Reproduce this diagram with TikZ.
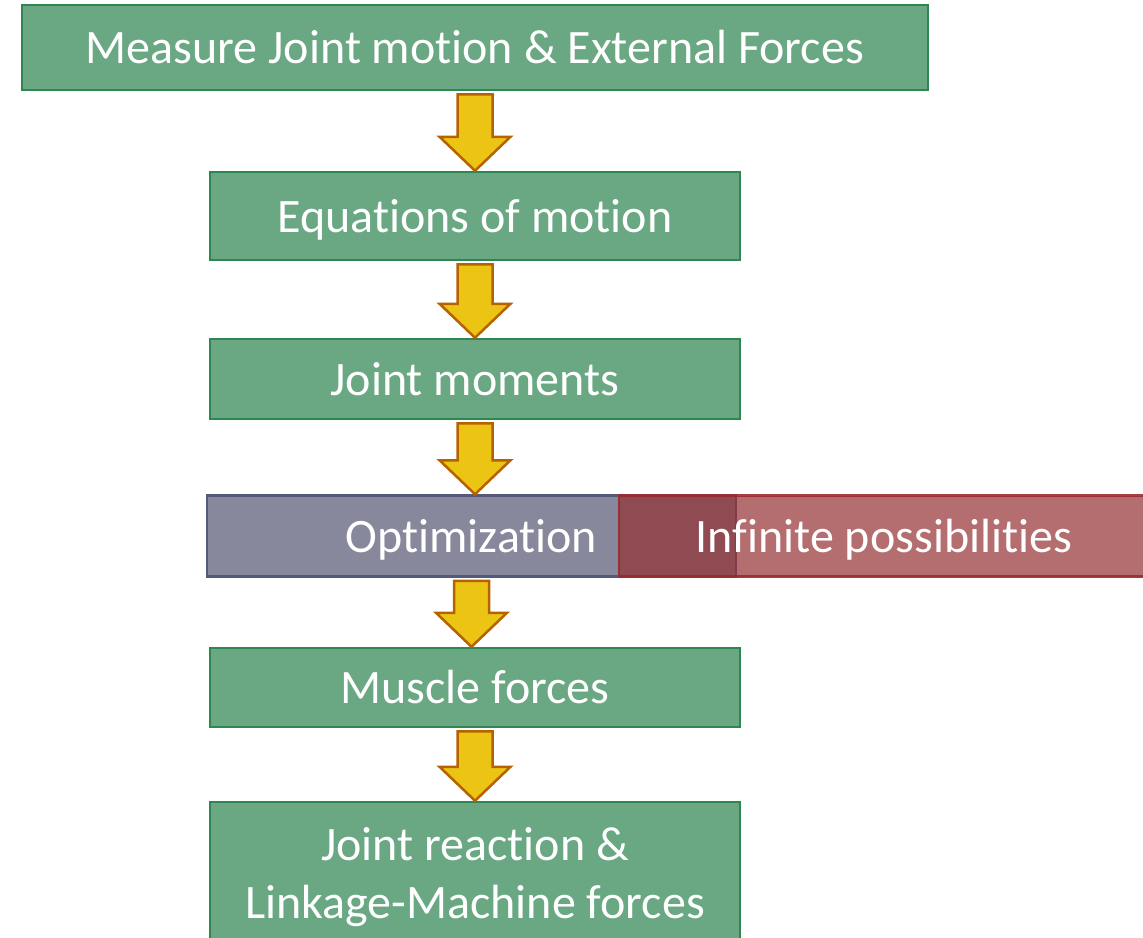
\documentclass[tikz,border=0pt]{standalone}
\usepackage{fontspec}
\setmainfont{Carlito}[Ligatures={NoCommon,NoRare,NoContextual}, Contextuals=NoAlternate]
\usetikzlibrary{calc}
\definecolor{boxgreen}{RGB}{106,168,132}
\definecolor{boxgreenline}{RGB}{46,135,80}
\definecolor{optfill}{RGB}{135,136,155}
\definecolor{optline}{RGB}{85,90,122}
\definecolor{inffill}{RGB}{149,48,51}
\definecolor{infline}{RGB}{155,42,48}
\definecolor{arrfill}{RGB}{236,196,20}
\definecolor{arrline}{RGB}{182,98,0}
\tikzset{
  boxtext/.style={text=white, font=\fontsize{48}{58}\selectfont, text height=36pt, text depth=4pt},
  greenbox/.style={draw=boxgreenline, fill=boxgreen, line width=2.5pt, inner sep=0pt,
    boxtext, align=center},
  optbox/.style={draw=optline, fill=optfill, line width=2.5pt, inner sep=0pt, boxtext},
  infbox/.style={draw=infline, fill=inffill, fill opacity=0.7, draw opacity=0.9, text opacity=1,
    line width=2.5pt, inner sep=0pt, boxtext},
  blockarr/.style={draw=arrline, fill=arrfill, line width=2.5pt, line join=miter},
}
\newcommand\blockarrow[2]{%
  \draw[blockarr] let \p1=(#1.south), \p2=(#2.north) in
    (\x1-17.5pt,\y1-3pt) -- (\x1+17.5pt,\y1-3pt) -- (\x1+17.5pt,\y2+34pt) --
    (\x1+35.5pt,\y2+34pt) -- (\x1,\y2) -- (\x1-35.5pt,\y2+34pt) --
    (\x1-17.5pt,\y2+34pt) -- cycle;}
\begin{document}
\begin{tikzpicture}[x=1pt,y=-1pt]
\useasboundingbox (0,0) rectangle (1143,937);
\node[greenbox, minimum width=906pt, minimum height=85pt] (measure) at (475,47.5) {Measure Joint motion \& External Forces};
\node[greenbox, minimum width=530pt, minimum height=88pt] (eom) at (475,216) {Equations of motion};
\node[greenbox, minimum width=530pt, minimum height=80pt] (moments) at (475,379) {Joint moments};
\node[optbox, minimum width=529pt, minimum height=81pt] (opt) at (471.5,536) {Optimization};
\node[infbox, minimum width=530pt, minimum height=81pt] (inf) at (884,536) {Infinite possibilities};
\node[greenbox, minimum width=530pt, minimum height=79pt] (muscle) at (475,687.5) {Muscle forces};
\node[greenbox, minimum width=530pt, minimum height=144pt, text height=94pt, text depth=6pt] (reaction) at (475,874) {Joint reaction \&\\Linkage-Machine forces};
\blockarrow{measure}{eom}
\blockarrow{eom}{moments}
\blockarrow{moments}{opt}
\blockarrow{opt}{muscle}
\blockarrow{muscle}{reaction}
\end{tikzpicture}
\end{document}
